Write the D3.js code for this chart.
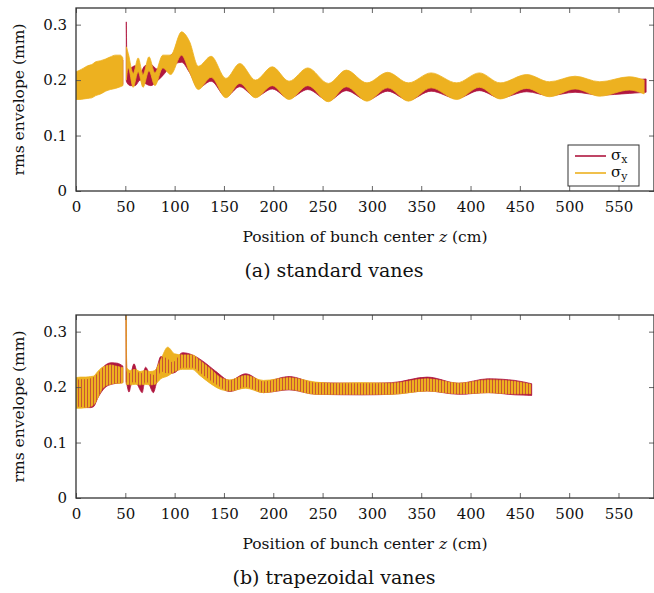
<!DOCTYPE html>
<html>
<head>
<meta charset="utf-8">
<script src="https://cdn.jsdelivr.net/npm/d3@7"></script>
<style>
  body { margin: 0; background: #fff; }
  svg text { font-family: "DejaVu Serif", serif; fill: #111; }
</style>
</head>
<body>
<div id="chart"></div>
<script>
// band envelopes (upper / lower), z in cm, sigma in mm
// null marks the gap in the data around z = 49 cm

// (a) standard vanes, sigma_x
var zStdX  = [0, 4, 8, 12, 16, 20, 25, 30, 35, 40, 45, 47.5, 48.5, 51, 51.8, 55, 60, 65, 70, 76, 82, 88, 96, 107, 115, 124, 137, 152, 166, 182, 199, 216, 235, 256, 274, 295, 316, 337, 360, 386, 409, 430, 457, 480, 506, 531, 561, 578];
var hiStdX = [0.210, 0.213, 0.217, 0.221, 0.223, 0.228, 0.230, 0.233, 0.237, 0.240, 0.240, 0.236, null, 0.305, 0.228, 0.222, 0.226, 0.214, 0.226, 0.228, 0.220, 0.232, 0.245, 0.256, 0.245, 0.213, 0.232, 0.199, 0.222, 0.197, 0.216, 0.195, 0.214, 0.191, 0.210, 0.192, 0.207, 0.192, 0.206, 0.192, 0.206, 0.192, 0.204, 0.194, 0.201, 0.194, 0.200, 0.202];
var loStdX = [0.168, 0.168, 0.169, 0.170, 0.171, 0.175, 0.178, 0.183, 0.186, 0.188, 0.190, 0.192, null, 0.198, 0.195, 0.190, 0.190, 0.200, 0.194, 0.190, 0.198, 0.208, 0.225, 0.232, 0.214, 0.186, 0.198, 0.170, 0.188, 0.170, 0.184, 0.167, 0.183, 0.163, 0.181, 0.164, 0.180, 0.164, 0.180, 0.167, 0.181, 0.168, 0.179, 0.172, 0.178, 0.173, 0.176, 0.178];

// (a) standard vanes, sigma_y
var zStdY  = [0, 4, 8, 12, 16, 20, 25, 30, 35, 40, 45, 47.5, 48.5, 51, 53, 58, 63, 68, 74, 80, 88, 96, 107, 115, 124, 137, 152, 166, 182, 199, 216, 235, 256, 274, 295, 316, 337, 360, 386, 409, 430, 457, 480, 506, 531, 561, 576];
var hiStdY = [0.215, 0.218, 0.222, 0.226, 0.228, 0.233, 0.235, 0.238, 0.242, 0.245, 0.245, 0.240, null, 0.260, 0.248, 0.212, 0.240, 0.210, 0.242, 0.213, 0.245, 0.245, 0.287, 0.270, 0.225, 0.243, 0.203, 0.230, 0.200, 0.224, 0.198, 0.222, 0.194, 0.218, 0.195, 0.214, 0.195, 0.213, 0.195, 0.213, 0.195, 0.210, 0.197, 0.207, 0.197, 0.206, 0.200];
var loStdY = [0.165, 0.165, 0.166, 0.167, 0.168, 0.172, 0.175, 0.180, 0.183, 0.185, 0.188, 0.190, null, 0.200, 0.222, 0.187, 0.215, 0.187, 0.217, 0.190, 0.222, 0.210, 0.245, 0.215, 0.183, 0.205, 0.168, 0.194, 0.168, 0.190, 0.165, 0.190, 0.161, 0.188, 0.162, 0.186, 0.162, 0.186, 0.165, 0.187, 0.166, 0.185, 0.170, 0.184, 0.171, 0.182, 0.175];

// (b) trapezoidal vanes, sigma_x
var zTrpX  = [0, 5, 10, 15, 18, 22, 30, 36, 42, 47.5, 48.5, 50.8, 51.5, 53.7, 56, 58.8, 62, 67.2, 69, 70.6, 74, 78.4, 82, 86, 92, 98, 108, 118, 130, 142, 156, 172, 190, 216, 243, 290, 320, 356, 388, 418, 445, 462];
var hiTrpX = [0.213, 0.214, 0.214, 0.216, 0.218, 0.225, 0.240, 0.244, 0.243, 0.238, null, 0.340, 0.228, 0.225, 0.228, 0.242, 0.228, 0.225, 0.230, 0.236, 0.226, 0.222, 0.235, 0.255, 0.252, 0.245, 0.262, 0.258, 0.245, 0.228, 0.212, 0.224, 0.210, 0.219, 0.208, 0.207, 0.208, 0.218, 0.207, 0.215, 0.212, 0.206];
var loTrpX = [0.165, 0.164, 0.163, 0.163, 0.165, 0.180, 0.200, 0.205, 0.207, 0.208, null, 0.210, 0.205, 0.191, 0.205, 0.210, 0.205, 0.190, 0.205, 0.210, 0.205, 0.190, 0.210, 0.228, 0.225, 0.225, 0.235, 0.235, 0.220, 0.205, 0.192, 0.200, 0.190, 0.195, 0.187, 0.186, 0.187, 0.193, 0.187, 0.190, 0.186, 0.185];

// (b) trapezoidal vanes, sigma_y
var zTrpY  = [0, 5, 10, 15, 18, 22, 26, 30, 35, 40, 45, 47.5, 48.5, 50.8, 51.5, 55, 60, 65, 70, 75, 80, 86, 93, 100, 108, 118, 125, 135, 148, 156, 172, 190, 216, 243, 260, 290, 320, 356, 388, 418, 445, 461];
var hiTrpY = [0.217, 0.218, 0.218, 0.219, 0.220, 0.228, 0.235, 0.238, 0.240, 0.238, 0.236, 0.235, null, 0.340, 0.235, 0.230, 0.232, 0.228, 0.230, 0.228, 0.230, 0.250, 0.272, 0.260, 0.258, 0.258, 0.249, 0.235, 0.216, 0.213, 0.221, 0.212, 0.217, 0.209, 0.207, 0.208, 0.207, 0.215, 0.207, 0.213, 0.210, 0.205];
var loTrpY = [0.162, 0.162, 0.163, 0.165, 0.168, 0.180, 0.195, 0.202, 0.205, 0.207, 0.207, 0.208, null, 0.205, 0.205, 0.204, 0.205, 0.204, 0.205, 0.204, 0.205, 0.215, 0.220, 0.228, 0.232, 0.232, 0.222, 0.208, 0.195, 0.193, 0.198, 0.190, 0.196, 0.187, 0.187, 0.187, 0.187, 0.193, 0.188, 0.190, 0.188, 0.188];

var xTicks = [0, 50, 100, 150, 200, 250, 300, 350, 400, 450, 500, 550];
var yTicks = [0, 0.1, 0.2, 0.3];
var seriesNames = ["x", "y"];
var colors = ["#B0173F", "#EDB120"];

var svgWidth = 654;
var svgHeight = 593;

var svg = d3.select("#chart")
            .append("svg")
            .attr("width", svgWidth)
            .attr("height", svgHeight);

// fine ripple of the envelope: thin vertical stripes of sigma_x seen through sigma_y
var defs = svg.append("defs");
var stripes = defs.append("pattern")
    .attr("id", "ripple")
    .attr("patternUnits", "userSpaceOnUse")
    .attr("width", 3).attr("height", 10);
stripes.append("rect")
    .attr("x", 0).attr("y", 0).attr("width", 1).attr("height", 10)
    .attr("fill", colors[0]);

var x = d3.scaleLinear().domain([0, 586]).range([76, 654]);

function bandRows(zs, his, los) {
    return zs.map(function(z, i) { return {z: z, hi: his[i], lo: los[i]}; });
}

function drawPanel(id, top, bottom, caption, bands, rippleOpacity, showLegend) {
    var y = d3.scaleLinear().domain([0, 0.33]).range([bottom, top]);
    var g = svg.append("g");

    g.append("clipPath").attr("id", "clip-" + id)
        .append("rect")
        .attr("x", 76).attr("y", top)
        .attr("width", 578).attr("height", bottom - top);

    var area = d3.area()
        .defined(function(d) { return d.hi != null; })
        .x(function(d) { return x(d.z); })
        .y0(function(d) { return y(d.lo); })
        .y1(function(d) { return y(d.hi); })
        .curve(d3.curveMonotoneX);

    var plot = g.append("g").attr("clip-path", "url(#clip-" + id + ")");
    bands.forEach(function(b, i) {
        plot.append("path")
            .datum(b)
            .attr("d", area)
            .attr("fill", colors[i])
            .attr("stroke", colors[i])
            .attr("stroke-width", 0.8);
    });
    if (rippleOpacity > 0) {
        plot.append("path")
            .datum(bands[0])
            .attr("d", area)
            .attr("fill", "url(#ripple)")
            .attr("opacity", rippleOpacity);
    }

    // ticks on all four sides, pointing inward
    var bottomAxis = d3.axisBottom(x).tickValues(xTicks).tickSizeInner(-5).tickSizeOuter(0).tickPadding(10);
    var leftAxis = d3.axisLeft(y).tickValues(yTicks).tickSizeInner(-5).tickSizeOuter(0).tickPadding(9)
        .tickFormat(function(d) { return d === 0 ? "0" : d3.format(".1f")(d); });
    var topAxis = d3.axisTop(x).tickValues(xTicks).tickSizeInner(-5).tickSizeOuter(0).tickFormat("");
    var rightAxis = d3.axisRight(y).tickValues(yTicks).tickSizeInner(-5).tickSizeOuter(0).tickFormat("");

    var axes = [
        g.append("g").attr("transform", "translate(0," + bottom + ")").call(bottomAxis),
        g.append("g").attr("transform", "translate(76,0)").call(leftAxis),
        g.append("g").attr("transform", "translate(0," + top + ")").call(topAxis),
        g.append("g").attr("transform", "translate(654,0)").call(rightAxis)
    ];
    axes.forEach(function(a) {
        a.select(".domain").remove();
        a.selectAll("line").attr("stroke", "#555").attr("stroke-width", 0.9);
        a.selectAll("text").attr("font-family", "DejaVu Serif").attr("font-size", "15px").attr("fill", "#111");
    });

    g.append("rect")
        .attr("x", 76).attr("y", top)
        .attr("width", 578).attr("height", bottom - top)
        .attr("fill", "none")
        .attr("stroke", "#333")
        .attr("stroke-width", 1.3);

    // axis labels
    g.append("text")
        .attr("x", 365).attr("y", bottom + 51)
        .attr("text-anchor", "middle")
        .style("font-size", "15.5px")
        .html("Position of bunch center <tspan font-style='italic'>z</tspan> (cm)");

    g.append("text")
        .attr("transform", "translate(24," + ((top + bottom) / 2) + ") rotate(-90)")
        .attr("text-anchor", "middle")
        .style("font-size", "15.5px")
        .text("rms envelope (mm)");

    g.append("text")
        .attr("x", 334).attr("y", bottom + 86)
        .attr("text-anchor", "middle")
        .style("font-size", "19px")
        .text(caption);

    if (showLegend) {
        var lg = g.append("g");
        lg.append("rect")
            .attr("x", 568).attr("y", 145).attr("width", 71).attr("height", 41)
            .attr("fill", "#fff").attr("stroke", "#333").attr("stroke-width", 1);
        seriesNames.forEach(function(s, i) {
            var ly = 156 + i * 17;
            lg.append("line")
                .attr("x1", 575).attr("x2", 606)
                .attr("y1", ly).attr("y2", ly)
                .attr("stroke", colors[i]).attr("stroke-width", 1.6);
            var t = lg.append("text").attr("x", 611).attr("y", ly + 4).style("font-size", "15px");
            t.append("tspan").text("\u03c3");
            t.append("tspan").attr("dy", 3).style("font-size", "11px").text(s);
        });
    }
}

drawPanel("a", 8, 191, "(a) standard vanes",
    [bandRows(zStdX, hiStdX, loStdX), bandRows(zStdY, hiStdY, loStdY)], 0, true);
drawPanel("b", 315, 498, "(b) trapezoidal vanes",
    [bandRows(zTrpX, hiTrpX, loTrpX), bandRows(zTrpY, hiTrpY, loTrpY)], 0.6, false);
</script>
</body>
</html>
